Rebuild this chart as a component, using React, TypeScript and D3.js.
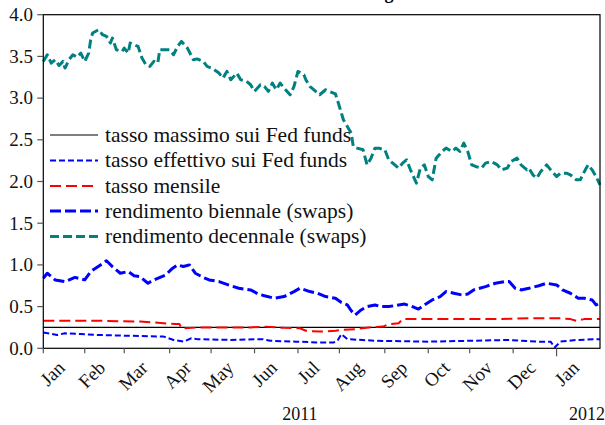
import React from "react";
import * as d3 from "d3";

// ---- data (x = business-day observation index from 3 Jan 2011) ----
const monthLabels = ["Jan", "Feb", "Mar", "Apr", "May", "Jun", "Jul", "Aug", "Sep", "Oct", "Nov", "Dec", "Jan"];
const monthStarts = ["2011-01-03", "2011-02-01", "2011-03-01", "2011-04-01", "2011-05-02", "2011-06-01", "2011-07-01",
  "2011-08-01", "2011-09-01", "2011-10-03", "2011-11-01", "2011-12-01", "2012-01-02", "2012-02-01"];
const yearLabels = ["2011", "2012"];
const yTicks = [0, 0.5, 1.0, 1.5, 2.0, 2.5, 3.0, 3.5, 4.0];

const maxObs = [0, 282];
const maxVal = [0.25, 0.25];

const effObs = [0, 7, 11, 19, 27, 44, 61, 66, 71, 75, 78, 95, 111, 115, 128, 139, 147, 149, 151, 154, 169, 195, 216, 236, 250, 257, 259, 262, 270, 282];
const effVal = [0.19, 0.16, 0.18, 0.17, 0.16, 0.15, 0.14, 0.10, 0.08, 0.12, 0.11, 0.10, 0.11, 0.09, 0.08, 0.07, 0.07, 0.09, 0.17, 0.11, 0.09, 0.08, 0.09, 0.10, 0.08, 0.08, 0.01, 0.08, 0.10, 0.11];

const mensObs = [0, 29, 49, 56, 67, 69, 70, 79, 105, 112, 122, 130, 133, 140, 148, 151, 158, 165, 172, 175, 180, 182, 206, 231, 246, 262, 267, 270, 274, 282];
const mensVal = [0.33, 0.33, 0.32, 0.31, 0.29, 0.29, 0.24, 0.25, 0.25, 0.26, 0.245, 0.24, 0.21, 0.20, 0.21, 0.22, 0.23, 0.25, 0.26, 0.29, 0.30, 0.35, 0.35, 0.35, 0.36, 0.36, 0.35, 0.33, 0.35, 0.35];

const biObs = [0, 2, 6, 11, 16, 21, 24, 29, 32, 35, 39, 43, 46, 49, 53, 56, 62, 65, 68, 71, 74, 77, 81, 84, 89, 95, 99, 105, 109, 112, 117, 122, 127, 130, 135, 139, 143, 148, 151, 154, 156, 158, 161, 164, 168, 171, 175, 180, 183, 187, 190, 193, 197, 201, 204, 208, 212, 215, 218, 224, 229, 234, 236, 239, 242, 246, 251, 255, 260, 263, 267, 271, 274, 278, 280, 282];
const biVal = [0.84, 0.90, 0.82, 0.80, 0.85, 0.82, 0.92, 1.00, 1.05, 0.98, 0.90, 0.92, 0.87, 0.86, 0.78, 0.82, 0.88, 0.95, 1.00, 0.98, 1.00, 0.90, 0.85, 0.82, 0.80, 0.75, 0.72, 0.70, 0.65, 0.63, 0.60, 0.62, 0.68, 0.72, 0.68, 0.66, 0.62, 0.60, 0.55, 0.52, 0.45, 0.40, 0.46, 0.50, 0.52, 0.50, 0.50, 0.52, 0.53, 0.50, 0.47, 0.52, 0.58, 0.62, 0.68, 0.66, 0.64, 0.65, 0.70, 0.74, 0.78, 0.80, 0.80, 0.72, 0.70, 0.72, 0.75, 0.78, 0.76, 0.70, 0.66, 0.60, 0.60, 0.58, 0.52, 0.54];

const decObs = [0, 2, 4, 6, 8, 10, 11, 13, 15, 17, 19, 21, 23, 24, 25, 28, 30, 32, 34, 35, 37, 40, 41, 43, 44, 46, 48, 50, 52, 54, 56, 58, 59, 62, 64, 66, 68, 70, 73, 76, 78, 81, 83, 86, 89, 91, 93, 95, 98, 100, 103, 105, 107, 110, 112, 114, 116, 118, 120, 122, 125, 127, 129, 132, 133, 135, 138, 140, 143, 145, 148, 150, 152, 154, 156, 157, 159, 162, 164, 166, 168, 170, 173, 175, 177, 180, 182, 184, 186, 189, 191, 193, 195, 197, 199, 202, 204, 207, 209, 211, 213, 215, 217, 219, 222, 224, 227, 230, 232, 235, 237, 240, 242, 245, 246, 248, 250, 252, 255, 257, 260, 262, 265, 267, 270, 272, 275, 276, 278, 280, 282];
const decVal = [3.44, 3.52, 3.42, 3.46, 3.39, 3.44, 3.36, 3.46, 3.52, 3.49, 3.54, 3.44, 3.54, 3.70, 3.78, 3.82, 3.76, 3.74, 3.66, 3.72, 3.58, 3.56, 3.60, 3.54, 3.66, 3.64, 3.62, 3.48, 3.40, 3.38, 3.44, 3.42, 3.58, 3.58, 3.58, 3.52, 3.62, 3.68, 3.60, 3.46, 3.47, 3.44, 3.38, 3.35, 3.30, 3.24, 3.32, 3.22, 3.30, 3.22, 3.20, 3.16, 3.08, 3.16, 3.14, 3.08, 3.18, 3.10, 3.18, 3.12, 3.04, 3.14, 3.32, 3.28, 3.22, 3.14, 3.08, 3.04, 3.10, 3.08, 3.05, 2.90, 2.74, 2.66, 2.58, 2.42, 2.40, 2.38, 2.20, 2.28, 2.40, 2.40, 2.38, 2.26, 2.22, 2.16, 2.22, 2.26, 2.14, 1.98, 2.16, 2.20, 2.06, 2.02, 2.28, 2.36, 2.40, 2.36, 2.40, 2.36, 2.46, 2.36, 2.20, 2.18, 2.16, 2.22, 2.24, 2.20, 2.14, 2.16, 2.24, 2.28, 2.20, 2.14, 2.16, 2.08, 2.04, 2.12, 2.20, 2.14, 2.06, 2.10, 2.10, 2.08, 2.02, 2.02, 2.16, 2.20, 2.14, 2.06, 1.96];

const legendLabels = [
  "tasso massimo sui Fed funds",
  "tasso effettivo sui Fed funds",
  "tasso mensile",
  "rendimento biennale (swaps)",
  "rendimento decennale (swaps)",
];
const titleFragment = "g";

const W = 605, H = 425;
const M = { left: 43.3, right: 600, top: 14.7, bottom: 348.3 };
const FF = "Liberation Serif";

const parse = d3.timeParse("%Y-%m-%d");
const startDay = parse(monthStarts[0]) as Date;
function bizIndex(s: string) {
  const d = parse(s) as Date;
  return d3.timeDays(startDay, d).filter((x) => x.getDay() !== 0 && x.getDay() !== 6).length;
}

export default function App() {
  const x = d3.scaleLinear().domain([0, 282]).range([M.left, M.right]);
  const y = d3.scaleLinear().domain([0, 4]).range([M.bottom, M.top]);
  const starts = monthStarts.map(bizIndex);

  const mk = (obs: number[], val: number[]) =>
    d3.line<number>().x((_, i) => x(obs[i])).y((v) => y(v))(val) || "";

  const series = [
    { obs: maxObs, val: maxVal, color: "#000000", w: 1.2, dash: "none" },
    { obs: effObs, val: effVal, color: "#0000FF", w: 2, dash: "6,3" },
    { obs: mensObs, val: mensVal, color: "#FF0000", w: 2, dash: "11,5" },
    { obs: biObs, val: biVal, color: "#0000FF", w: 3, dash: "11,4" },
    { obs: decObs, val: decVal, color: "#008080", w: 3, dash: "9,4" },
  ];

  const legendY = [135, 160.5, 186, 211, 236.5];

  return (
    <svg width={W} height={H} style={{ position: "fixed", left: 0, top: 0, background: "#fff" }}>
      <rect width={W} height={H} fill="#fff" />
      <g fontFamily={FF}>
        <text x={389} y={-1} textAnchor="middle" fontSize={18} fontWeight="bold" fontFamily={FF}>{titleFragment}</text>

        {/* series */}
        <g fill="none">
          {series.map((s, k) => (
            <path key={k} d={mk(s.obs, s.val)} stroke={s.color} strokeWidth={s.w}
              strokeDasharray={s.dash} strokeLinejoin="round" />
          ))}
        </g>

        {/* frame */}
        <rect x={M.left} y={M.top} width={M.right - M.left} height={M.bottom - M.top}
          fill="none" stroke="#000" strokeWidth={1.2} />

        {/* y axis */}
        {yTicks.map((t) => (
          <g key={t}>
            <line x1={M.left - 6} x2={M.left} y1={y(t)} y2={y(t)} stroke="#555" strokeWidth={1.2} />
            <text x={33} y={y(t) + 6.3} textAnchor="end" fontSize={19} fill="#111" fontFamily={FF}>{t.toFixed(1)}</text>
          </g>
        ))}

        {/* x axis ticks */}
        {starts.slice(0, 13).map((s, i) => (
          <line key={i} x1={x(s)} x2={x(s)} y1={M.bottom} y2={M.bottom + (i === 12 ? 8 : 5)} stroke="#555" strokeWidth={1.2} />
        ))}
        {monthLabels.map((m, i) => {
          const mid = (x(starts[i]) + x(starts[i + 1])) / 2 + 2;
          return (
            <text key={i} x={mid} y={369} textAnchor="end" fontSize={19} fill="#111" fontFamily={FF}
              transform={`rotate(-45 ${mid} 369)`}>{m}</text>
          );
        })}
        <text x={(x(starts[0]) + x(starts[12])) / 2} y={420} textAnchor="middle" fontSize={18} fill="#111" fontFamily={FF}>{yearLabels[0]}</text>
        <text x={W} y={420} textAnchor="end" fontSize={18} fill="#111" fontFamily={FF}>{yearLabels[1]}</text>

        {/* legend */}
        {legendLabels.map((l, i) => (
          <g key={i}>
            <line x1={50} x2={98} y1={legendY[i]} y2={legendY[i]} stroke={series[i].color}
              strokeWidth={series[i].w} strokeDasharray={series[i].dash} />
            <text x={105} y={legendY[i] + 6.5} fontSize={21.5} fill="#111" fontFamily={FF}>{l}</text>
          </g>
        ))}
      </g>
    </svg>
  );
}
